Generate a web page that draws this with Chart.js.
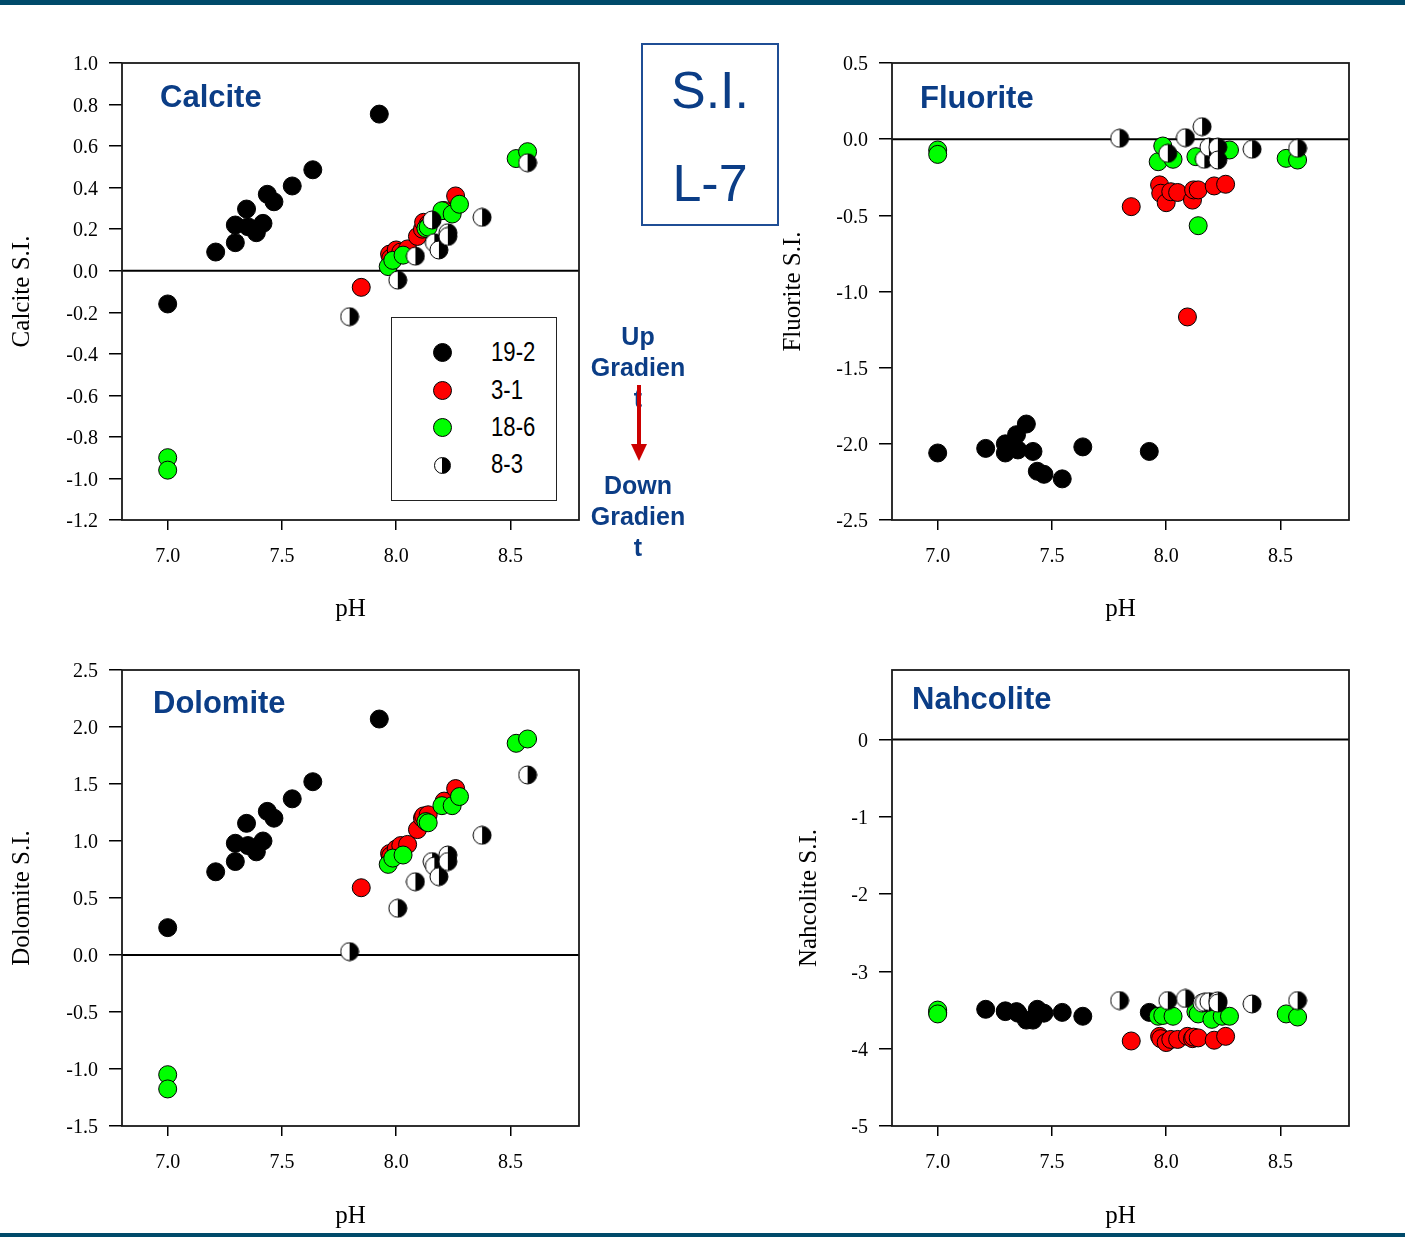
<!DOCTYPE html>
<html><head><meta charset="utf-8">
<script src="https://cdn.jsdelivr.net/npm/chart.js@4.4.1/dist/chart.umd.min.js"></script>
<style>
html,body{margin:0;padding:0;background:#fff;}
#page{position:relative;width:1405px;height:1237px;overflow:hidden;background:#fff;}
canvas{position:absolute;}
.bar{position:absolute;left:0;width:1405px;background:#004a6a;}
.ttl{position:absolute;font:bold 31px "Liberation Sans",Arial,sans-serif;line-height:31px;color:#0b3d86;white-space:nowrap;}
.sibox{position:absolute;left:641px;top:43px;width:138px;height:183px;border:2px solid #1f4e95;box-sizing:border-box;}
.big{position:absolute;left:641px;width:138px;text-align:center;font:52px "Liberation Sans",Arial,sans-serif;line-height:52px;color:#0b3d86;}
.grad{position:absolute;left:578px;width:120px;text-align:center;font:bold 25px "Liberation Sans",Arial,sans-serif;line-height:31px;color:#0b3d86;}
.legend{position:absolute;left:391px;top:317px;width:166px;height:184px;border:1px solid #222;box-sizing:border-box;background:#fff;}
.lm{position:absolute;width:19px;height:19px;border-radius:50%;box-sizing:border-box;border:1px solid #000;}
.lt{position:absolute;left:491px;font:27px "Liberation Sans",Arial,sans-serif;line-height:27px;color:#000;transform:scaleX(0.82);transform-origin:left center;white-space:nowrap;}
</style></head>
<body>
<div id="page">
<div class="bar" style="top:0;height:5px"></div>
<canvas id="cCalcite" width="600" height="600" style="left:0;top:30px"></canvas>
<canvas id="cFluorite" width="620" height="600" style="left:770px;top:30px"></canvas>
<canvas id="cDolomite" width="600" height="600" style="left:0;top:637px"></canvas>
<canvas id="cNahcolite" width="620" height="600" style="left:770px;top:637px"></canvas>

<div class="ttl" style="left:160px;top:81px">Calcite</div>
<div class="ttl" style="left:920px;top:82px">Fluorite</div>
<div class="ttl" style="left:153px;top:687px">Dolomite</div>
<div class="ttl" style="left:912px;top:683px">Nahcolite</div>

<div class="sibox"></div>
<div class="big" style="top:64px">S.I.</div>
<div class="big" style="top:157px">L-7</div>

<div class="grad" style="top:321px">Up<br>Gradien<br>t</div>
<div class="grad" style="top:470px">Down<br>Gradien<br>t</div>
<svg style="position:absolute;left:620px;top:380px" width="40" height="90">
  <rect x="17" y="5" width="4" height="62" fill="#cc0000"/>
  <polygon points="11,64 27,64 19,81" fill="#cc0000"/>
</svg>

<div class="legend"></div>
<div class="lm" style="left:433px;top:343px;background:#000"></div>
<div class="lm" style="left:433px;top:381px;background:#ff0000"></div>
<div class="lm" style="left:433px;top:418px;background:#00ff00"></div>
<div class="lm" style="left:434px;top:457px;width:17px;height:17px;background:linear-gradient(to right,#fff 50%,#000 50%)"></div>
<div class="lt" id="lg0" style="top:339px"></div>
<div class="lt" id="lg1" style="top:377px"></div>
<div class="lt" id="lg2" style="top:414px"></div>
<div class="lt" id="lg3" style="top:451px"></div>

<div class="bar" style="top:1233px;height:4px"></div>
</div>
<script>
// ---------- DATA ----------
const seriesNames = ['19-2', '3-1', '18-6', '8-3'];
const xTicks = [7.0, 7.5, 8.0, 8.5];
const calciteTicks = [-1.2, -1.0, -0.8, -0.6, -0.4, -0.2, 0.0, 0.2, 0.4, 0.6, 0.8, 1.0];
const fluoriteTicks = [-2.5, -2.0, -1.5, -1.0, -0.5, 0.0, 0.5];
const dolomiteTicks = [-1.5, -1.0, -0.5, 0.0, 0.5, 1.0, 1.5, 2.0, 2.5];
const nahcoliteTicks = [-5, -4, -3, -2, -1, 0];

// 19-2
const pH_19_2 = [7.00, 7.21, 7.296, 7.296, 7.345, 7.351, 7.388, 7.417, 7.436, 7.465, 7.545, 7.635, 7.926];
const calcite_19_2 = [-0.16, 0.09, 0.22, 0.135, 0.297, 0.212, 0.183, 0.228, 0.368, 0.332, 0.408, 0.486, 0.754];
const fluorite_19_2 = [-2.06, -2.03, -2.00, -2.06, -1.94, -2.04, -1.87, -2.05, -2.18, -2.20, -2.23, -2.02, -2.05];
const dolomite_19_2 = [0.24, 0.73, 0.98, 0.82, 1.155, 0.96, 0.905, 1.00, 1.26, 1.20, 1.37, 1.52, 2.07];
const nahcolite_19_2 = [-3.53, -3.49, -3.51, -3.52, -3.52, -3.54, -3.63, -3.63, -3.49, -3.54, -3.53, -3.58, -3.53];

// 3-1
const pH_3_1 = [7.847, 7.971, 7.976, 8.000, 8.020, 8.050, 8.093, 8.115, 8.120, 8.140, 8.210, 8.260];
const calcite_3_1 = [-0.08, 0.08, 0.06, 0.10, 0.09, 0.105, 0.165, 0.20, 0.233, 0.225, 0.29, 0.36];
const fluorite_3_1 = [-0.443, -0.30, -0.355, -0.417, -0.345, -0.35, -1.167, -0.40, -0.333, -0.333, -0.307, -0.296];
const dolomite_3_1 = [0.59, 0.89, 0.87, 0.93, 0.96, 0.97, 1.10, 1.20, 1.22, 1.23, 1.35, 1.46];
const nahcolite_3_1 = [-3.90, -3.84, -3.87, -3.92, -3.88, -3.88, -3.84, -3.87, -3.85, -3.86, -3.89, -3.84];

// 18-6
const pH_18_6 = [7.00, 7.00, 7.965, 7.985, 8.030, 8.130, 8.140, 8.200, 8.245, 8.277, 8.525, 8.575];
const calcite_18_6 = [-0.90, -0.96, 0.02, 0.05, 0.075, 0.204, 0.21, 0.289, 0.273, 0.32, 0.54, 0.573];
const fluorite_18_6 = [-0.071, -0.10, -0.148, -0.045, -0.132, -0.115, -0.568, -0.09, -0.08, -0.071, -0.126, -0.137];
const dolomite_18_6 = [-1.05, -1.175, 0.795, 0.85, 0.877, 1.17, 1.16, 1.31, 1.31, 1.39, 1.857, 1.895];
const nahcolite_18_6 = [-3.50, -3.55, -3.58, -3.57, -3.58, -3.52, -3.55, -3.62, -3.58, -3.58, -3.55, -3.59];

// 8-3
const pH_8_3 = [7.796, 8.007, 8.084, 8.157, 8.167, 8.187, 8.226, 8.226, 8.376, 8.575];
const calcite_8_3 = [-0.221, -0.045, 0.07, 0.244, 0.135, 0.10, 0.183, 0.165, 0.257, 0.52];
const fluorite_8_3 = [0.006, -0.093, 0.01, 0.082, -0.132, -0.053, -0.053, -0.137, -0.066, -0.06];
const dolomite_8_3 = [0.03, 0.41, 0.643, 0.82, 0.78, 0.687, 0.877, 0.82, 1.05, 1.58];
const nahcolite_8_3 = [-3.377, -3.377, -3.35, -3.41, -3.40, -3.39, -3.38, -3.41, -3.42, -3.377];

// ---------- RENDER ----------
seriesNames.forEach((n, i) => { document.getElementById('lg' + i).textContent = n; });

Chart.defaults.font.family = '"Liberation Serif","Times New Roman",serif';
Chart.defaults.color = '#000';

function halfMarker(r) {
  const s = Math.ceil(2 * r + 2);
  const c = document.createElement('canvas');
  c.width = s; c.height = s;
  const g = c.getContext('2d');
  const cx = s / 2, cy = s / 2;
  g.beginPath(); g.arc(cx, cy, r, Math.PI / 2, 3 * Math.PI / 2); g.closePath(); g.fillStyle = '#fff'; g.fill();
  g.beginPath(); g.arc(cx, cy, r, -Math.PI / 2, Math.PI / 2); g.closePath(); g.fillStyle = '#000'; g.fill();
  g.beginPath(); g.arc(cx, cy, r, 0, 2 * Math.PI); g.lineWidth = 1; g.strokeStyle = '#000'; g.stroke();
  return c;
}
const halfImg = halfMarker(9);

function pts(xs, ys) { return xs.map((x, i) => ({ x: x, y: ys[i] })); }

const framePlugin = {
  id: 'frame',
  beforeDatasetsDraw(chart) {
    const { ctx, chartArea: a, scales } = chart;
    ctx.save();
    const y0 = scales.y.getPixelForValue(0);
    ctx.strokeStyle = '#000'; ctx.lineWidth = 2;
    ctx.beginPath(); ctx.moveTo(a.left, y0); ctx.lineTo(a.right, y0); ctx.stroke();
    ctx.strokeStyle = '#1a1a1a'; ctx.lineWidth = 1.8;
    ctx.strokeRect(a.left, a.top, a.right - a.left, a.bottom - a.top);
    ctx.restore();
  }
};

function buildChart(id, ys, opt) {
  const base = { pointRadius: 9, borderColor: '#000', borderWidth: 1, showLine: false };
  const datasets = [
    Object.assign({ label: seriesNames[3], data: pts(pH_8_3, ys[3]), pointStyle: halfImg, backgroundColor: '#fff' }, base),
    Object.assign({ label: seriesNames[2], data: pts(pH_18_6, ys[2]), pointStyle: 'circle', backgroundColor: '#00ff00' }, base),
    Object.assign({ label: seriesNames[1], data: pts(pH_3_1, ys[1]), pointStyle: 'circle', backgroundColor: '#ff0000' }, base),
    Object.assign({ label: seriesNames[0], data: pts(pH_19_2, ys[0]), pointStyle: 'circle', backgroundColor: '#000000' }, base)
  ];
  new Chart(document.getElementById(id), {
    type: 'scatter',
    data: { datasets: datasets },
    options: {
      responsive: false, animation: false, events: [],
      layout: { padding: { top: 33, right: opt.padRight, left: 0, bottom: 0 } },
      plugins: { legend: { display: false }, tooltip: { enabled: false } },
      scales: {
        x: {
          type: 'linear', position: 'bottom', min: 6.8, max: 8.8,
          afterFit: s => { s.height = opt.xHeight; },
          afterBuildTicks: s => { s.ticks = xTicks.map(v => ({ value: v })); },
          ticks: { font: { size: 20 }, color: '#000', padding: 15, maxRotation: 0, autoSkip: false, callback: v => Number(v).toFixed(1) },
          grid: { drawOnChartArea: false, drawTicks: true, tickLength: 10, color: '#000', lineWidth: 1.5 },
          border: { display: false },
          title: { display: true, text: 'pH', font: { size: 25 }, color: '#000', padding: { top: 0, bottom: 6 } }
        },
        y: {
          type: 'linear', position: 'left', min: opt.yMin, max: opt.yMax,
          afterFit: s => { s.width = 122; },
          afterBuildTicks: s => { s.ticks = opt.yTicks.map(v => ({ value: v })); },
          ticks: { font: { size: 20 }, color: '#000', padding: 11, labelOffset: 2, autoSkip: false, callback: v => Number(v).toFixed(opt.dec) },
          grid: { drawOnChartArea: false, drawTicks: true, tickLength: 13, color: '#000', lineWidth: 1.5 },
          border: { display: false },
          title: { display: true, text: opt.label, font: { size: 25 }, color: '#000', padding: { top: opt.titlePad, bottom: 0 } }
        }
      }
    },
    plugins: [framePlugin]
  });
}

buildChart('cCalcite', [calcite_19_2, calcite_3_1, calcite_18_6, calcite_8_3],
  { yMin: -1.2, yMax: 1.0, yTicks: calciteTicks, dec: 1, label: 'Calcite S.I.', padRight: 21, xHeight: 110, titlePad: 7 });
buildChart('cFluorite', [fluorite_19_2, fluorite_3_1, fluorite_18_6, fluorite_8_3],
  { yMin: -2.5, yMax: 0.5, yTicks: fluoriteTicks, dec: 1, label: 'Fluorite S.I.', padRight: 41, xHeight: 110, titlePad: 8 });
buildChart('cDolomite', [dolomite_19_2, dolomite_3_1, dolomite_18_6, dolomite_8_3],
  { yMin: -1.5, yMax: 2.5, yTicks: dolomiteTicks, dec: 1, label: 'Dolomite S.I.', padRight: 21, xHeight: 111, titlePad: 7 });
buildChart('cNahcolite', [nahcolite_19_2, nahcolite_3_1, nahcolite_18_6, nahcolite_8_3],
  { yMin: -5, yMax: 0.9, yTicks: nahcoliteTicks, dec: 0, label: 'Nahcolite S.I.', padRight: 41, xHeight: 111, titlePad: 24 });
</script>
</body></html>
